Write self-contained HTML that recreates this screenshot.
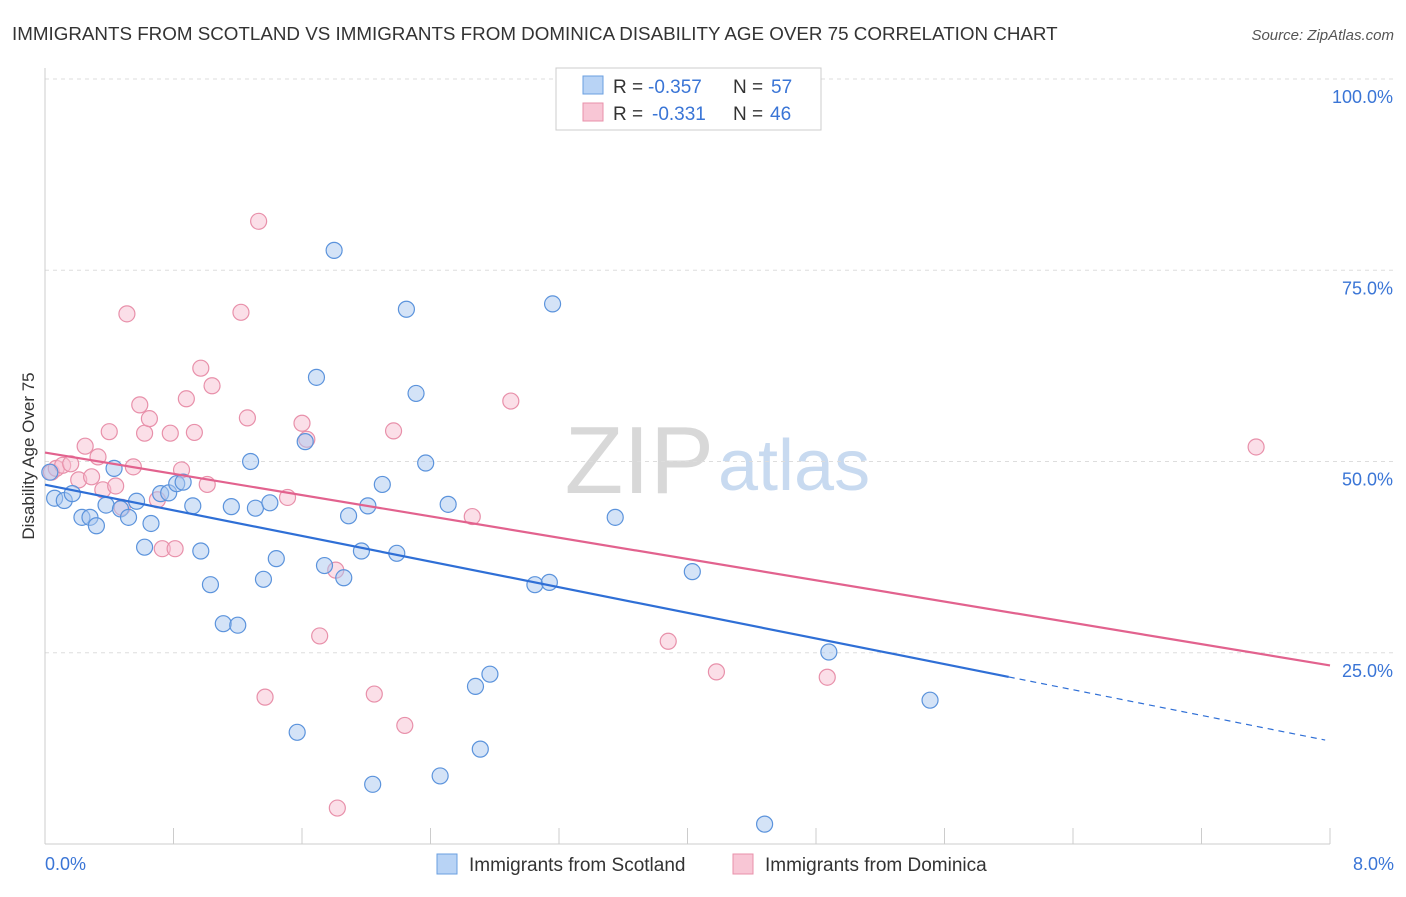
<!DOCTYPE html>
<html><head><meta charset="utf-8"><style>
body{margin:0;background:#fff;font-family:"Liberation Sans",sans-serif;}
svg text{font-family:"Liberation Sans",sans-serif;}
</style></head><body>
<svg id="chart" width="1406" height="892">
<text x="12" y="40" font-size="18.8" fill="#333">IMMIGRANTS FROM SCOTLAND VS IMMIGRANTS FROM DOMINICA DISABILITY AGE OVER 75 CORRELATION CHART</text>
<text x="1394" y="40" font-size="15" fill="#555" font-style="italic" text-anchor="end">Source: ZipAtlas.com</text>
<text x="34" y="456" font-size="17" fill="#333" text-anchor="middle" transform="rotate(-90 34 456)">Disability Age Over 75</text>
<text x="714" y="493" font-size="96" fill="#d8d8d8" text-anchor="end" font-family="Liberation Serif">ZIP</text>
<text x="718" y="490" font-size="72" fill="#c8daf0">atlas</text>
<g id="grid"></g><g id="axes"></g><g id="pts"></g><g id="lines"></g>
<g>
<rect x="556" y="68" width="265" height="62" fill="#fff" stroke="#ccc"/>
<rect x="583" y="76" width="20" height="18" fill="#b8d3f5" stroke="#6a9fe0"/>
<text x="613" y="93" font-size="19" fill="#333">R =</text>
<text x="648" y="93" font-size="19" fill="#3a75d6">-0.357</text>
<text x="733" y="93" font-size="19" fill="#333">N =</text>
<text x="771" y="93" font-size="19" fill="#3a75d6">57</text>
<rect x="583" y="103" width="20" height="18" fill="#f8c6d5" stroke="#e890aa"/>
<text x="613" y="120" font-size="19" fill="#333">R =</text>
<text x="652" y="120" font-size="19" fill="#3a75d6">-0.331</text>
<text x="733" y="120" font-size="19" fill="#333">N =</text>
<text x="770" y="120" font-size="19" fill="#3a75d6">46</text>
</g>
<g>
<rect x="437" y="854" width="20" height="20" fill="#b8d3f5" stroke="#6a9fe0"/>
<text x="469" y="871" font-size="19" fill="#333">Immigrants from Scotland</text>
<rect x="733" y="854" width="20" height="20" fill="#f8c6d5" stroke="#e890aa"/>
<text x="765" y="871" font-size="19" fill="#333">Immigrants from Dominica</text>
</g>
</svg>
<script>
const xTicks=[0,0.8,1.6,2.4,3.2,4,4.8,5.6,6.4,7.2,8];
const yTicks=[25,50,75,100];
const yTickLabels=["25.0%","50.0%","75.0%","100.0%"];
const blueX=[0.06,0.12,0.03,0.17,0.23,0.28,0.32,0.38,0.43,0.47,0.52,0.57,0.62,0.66,0.72,0.77,0.82,0.86,0.92,0.97,1.03,1.11,1.2,1.16,1.28,1.31,1.36,1.4,1.44,1.57,1.62,1.69,1.74,1.8,1.86,1.89,1.97,2.01,2.1,2.19,2.25,2.31,2.37,2.46,2.51,2.68,2.71,2.77,2.04,3.05,3.14,3.16,3.55,4.03,4.48,4.88,5.51];
const blueY=[45.2,44.9,48.6,45.8,42.7,42.7,41.6,44.3,49.1,43.8,42.7,44.8,38.8,41.9,45.8,45.9,47.1,47.3,44.2,38.3,33.9,28.8,28.6,44.1,50,43.9,34.6,44.6,37.3,14.6,52.6,61,36.4,77.6,34.8,42.9,38.3,44.2,47,38,69.9,58.9,49.8,8.9,44.4,20.6,12.4,22.2,7.8,33.9,34.2,70.6,42.7,35.6,2.6,25.1,18.8];
const pinkX=[0.04,0.07,0.11,0.16,0.21,0.25,0.29,0.33,0.36,0.4,0.44,0.48,0.51,0.55,0.59,0.62,0.65,0.7,0.73,0.78,0.81,0.85,0.88,0.93,0.97,1.01,1.04,1.22,1.26,1.33,1.37,1.51,1.6,1.63,1.71,1.81,1.82,2.05,2.17,2.24,2.66,2.9,3.88,4.18,4.87,7.54];
const pinkY=[48.6,49.1,49.5,49.7,47.6,52,48,50.6,46.3,53.9,46.8,44,69.3,49.3,57.4,53.7,55.6,45,38.6,53.7,38.6,48.9,58.2,53.8,62.2,47,59.9,69.5,55.7,81.4,19.2,45.3,55,52.9,27.2,35.8,4.7,19.6,54,15.5,42.8,57.9,26.5,22.5,21.8,51.9];
const ns="http://www.w3.org/2000/svg";
const X=v=>45+v/8*1285, Y=v=>844-v*7.65;
function mk(t,a,p){const e=document.createElementNS(ns,t);for(const k in a)e.setAttribute(k,a[k]);p.appendChild(e);return e;}
const grid=document.getElementById('grid'),axes=document.getElementById('axes'),pts=document.getElementById('pts'),lines=document.getElementById('lines');
yTicks.forEach((v,i)=>{
 const l=mk('line',{x1:45,x2:1394,y1:Y(v),y2:Y(v),stroke:'#ddd','stroke-dasharray':'4,4'},grid);
 
 
 const t=mk('text',{x:1393,y:Y(v)+24,'font-size':18,fill:'#3a75d6','text-anchor':'end'},axes);
 t.textContent=yTickLabels[i];
 
 
});
mk('line',{x1:45,x2:45,y1:68,y2:844,stroke:'#ccc'},axes);
mk('line',{x1:45,x2:1330,y1:844,y2:844,stroke:'#ccc'},axes);
xTicks.forEach(v=>{const l=mk('line',{x1:X(v),x2:X(v),y1:828,y2:844,stroke:'#ccc'},axes);
 
 });
const t0=mk('text',{x:45,y:870,'font-size':18,fill:'#3a75d6'},axes);t0.textContent='0.0%';


const t1=mk('text',{x:1394,y:870,'font-size':18,fill:'#3a75d6','text-anchor':'end'},axes);t1.textContent='8.0%';


function dots(xs,ys,fill,stroke,name){xs.forEach((x,i)=>{const c=mk('circle',{cx:X(x),cy:Y(ys[i]),r:8,fill:fill,'fill-opacity':0.5,stroke:stroke,'stroke-width':1.2},pts);
 
 });}
dots(pinkX,pinkY,'#f8c0d2','#e890aa','point-dominica');
dots(blueX,blueY,'#a9c8f0','#5b93dc','point-scotland');
function fit(xs,ys){const n=xs.length,mx=xs.reduce((a,b)=>a+b)/n,my=ys.reduce((a,b)=>a+b)/n;let sxy=0,sxx=0;xs.forEach((x,i)=>{sxy+=(x-mx)*(ys[i]-my);sxx+=(x-mx)**2});const b=sxy/sxx;return[my-b*mx,b];}
const [ba,bb]=fit(blueX,blueY),[pa,pb]=fit(pinkX,pinkY);
const bl=mk('line',{x1:X(0),y1:Y(ba),x2:X(6),y2:Y(ba+bb*6),stroke:'#2f6fd6','stroke-width':2.2},lines);


const bd=mk('line',{x1:X(6),y1:Y(ba+bb*6),x2:X(7.97),y2:Y(ba+bb*7.97),stroke:'#2f6fd6','stroke-width':1.2,'stroke-dasharray':'6,5'},lines);


const pl=mk('line',{x1:X(0),y1:Y(pa),x2:X(8),y2:Y(pa+pb*8),stroke:'#e2628e','stroke-width':2.2},lines);


</script>
</body></html>
